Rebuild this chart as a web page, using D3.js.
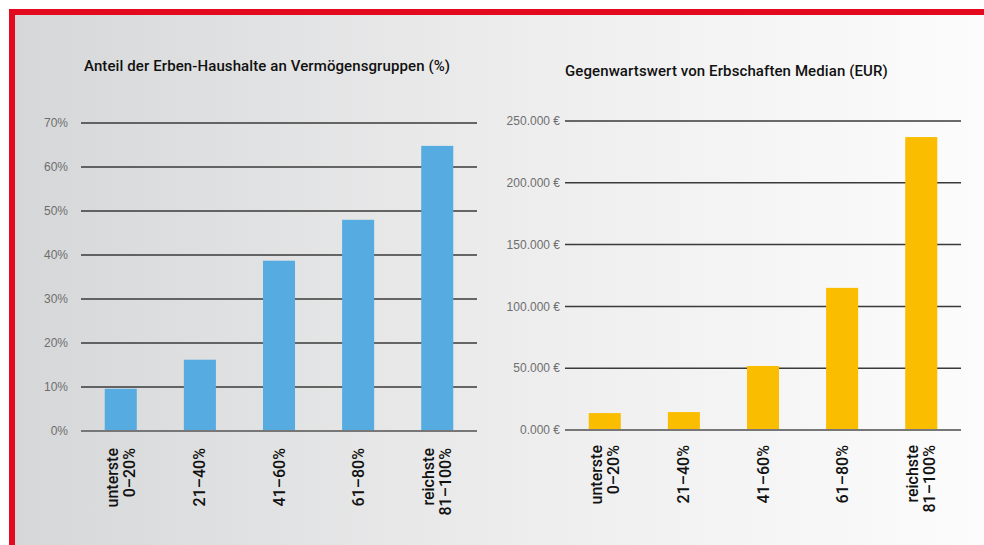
<!DOCTYPE html>
<html>
<head>
<meta charset="utf-8">
<script src="https://cdn.jsdelivr.net/npm/d3@7"></script>
<style>
  body { margin: 0; background: #fff; }
  svg { display: block; }
</style>
</head>
<body>
<svg id="chart" width="984" height="545"></svg>
<script>
// data
var categories = [["unterste", "0–20%"], ["21–40%"], ["41–60%"], ["61–80%"], ["reichste", "81–100%"]];
var shareValues = [9.6, 16.2, 38.7, 48.0, 64.8];
var shareTicks = [0, 10, 20, 30, 40, 50, 60, 70];
var shareTickLabels = ["0%", "10%", "20%", "30%", "40%", "50%", "60%", "70%"];
var medianValues = [13700, 14500, 51800, 115000, 237000];
var medianTicks = [0, 50000, 100000, 150000, 200000, 250000];
var medianTickLabels = ["0.000 €", "50.000 €", "100.000 €", "150.000 €", "200.000 €", "250.000 €"];

var svg = d3.select("#chart");

// background gradient + red frame
var defs = svg.append("defs");
var grad = defs.append("linearGradient").attr("id", "bg").attr("x1", "0").attr("x2", "1").attr("y1", "0").attr("y2", "0");
grad.append("stop").attr("offset", "0%").attr("stop-color", "#d6d7d8");
grad.append("stop").attr("offset", "55%").attr("stop-color", "#eeeeef");
grad.append("stop").attr("offset", "100%").attr("stop-color", "#fcfcfc");

svg.append("rect").attr("x", 15).attr("y", 15).attr("width", 969).attr("height", 530).attr("fill", "url(#bg)");
svg.append("rect").attr("x", 9).attr("y", 9).attr("width", 975).attr("height", 6).attr("fill", "#e30a1f");
svg.append("rect").attr("x", 9).attr("y", 9).attr("width", 6).attr("height", 536).attr("fill", "#e30a1f");

function drawPanel(opts) {
  var x = d3.scaleBand()
    .domain(d3.range(categories.length))
    .range([opts.x0, opts.x1])
    .paddingInner(0.595)
    .paddingOuter(0.3);

  var y = d3.scaleLinear()
    .domain([0, opts.max])
    .range([opts.yBottom, opts.yTop]);

  var g = svg.append("g");

  // title
  g.append("text")
    .attr("x", opts.x0 + opts.titleDx)
    .attr("y", opts.titleY)
    .style("font-family", "Roboto, 'DejaVu Sans Condensed', sans-serif")
    .style("font-weight", 500)
    .style("font-size", "15px")
    .style("letter-spacing", "0.1px")
    .style("fill", "#111")
    .text(opts.title);

  // grid lines
  g.selectAll(".grid")
    .data(opts.ticks.slice(1))
    .enter().append("line")
    .attr("x1", opts.x0).attr("x2", opts.x1)
    .attr("y1", function(d) { return y(d); })
    .attr("y2", function(d) { return y(d); })
    .style("stroke", "#3a3a3a")
    .style("stroke-width", 1.5);

  // tick labels
  g.selectAll(".tick-label")
    .data(opts.ticks)
    .enter().append("text")
    .attr("x", opts.x0 - opts.labelGap)
    .attr("y", function(d) { return y(d); })
    .attr("dy", "0.35em")
    .attr("text-anchor", "end")
    .style("font-family", "'Liberation Sans', Arial, sans-serif")
    .style("font-size", "12px")
    .style("fill", "#6e6e6e")
    .text(function(d, i) { return opts.tickLabels[i]; });

  // bars
  g.selectAll(".bar")
    .data(opts.values)
    .enter().append("rect")
    .attr("x", function(d, i) { return x(i); })
    .attr("width", x.bandwidth())
    .attr("y", function(d) { return y(d); })
    .attr("height", function(d) { return y(0) - y(d); })
    .style("fill", opts.color);

  // baseline
  g.append("line")
    .attr("x1", opts.x0).attr("x2", opts.x1)
    .attr("y1", y(0)).attr("y2", y(0))
    .style("stroke", "#777")
    .style("stroke-width", 2);

  // category labels, rotated
  var cat = g.selectAll(".cat")
    .data(categories)
    .enter().append("g")
    .attr("transform", function(d, i) {
      return "translate(" + (x(i) + x.bandwidth() / 2) + "," + (y(0) + opts.catGap) + ") rotate(-90)";
    });

  cat.append("text")
    .attr("text-anchor", "end")
    .style("font-family", "Roboto, 'DejaVu Sans Condensed', sans-serif")
    .style("font-size", "16px")
    .style("font-weight", 500)
    .style("fill", "#111")
    .selectAll("tspan")
    .data(function(d) { return d; })
    .enter().append("tspan")
    .attr("x", 0)
    .attr("y", function(d, i, nodes) {
      var n = nodes.length;
      return (i - (n - 1) / 2) * 17 + 5.5;
    })
    .text(function(d) { return d; });
}

drawPanel({
  x0: 81, x1: 477, yTop: 123, yBottom: 431,
  max: 70, values: shareValues, ticks: shareTicks, tickLabels: shareTickLabels,
  color: "#56abe1", title: "Anteil der Erben-Haushalte an Vermögensgruppen (%)",
  titleDx: 3, titleY: 71, labelGap: 13, catGap: 17
});

drawPanel({
  x0: 565, x1: 961, yTop: 121, yBottom: 430,
  max: 250000, values: medianValues, ticks: medianTicks, tickLabels: medianTickLabels,
  color: "#fbbd00", title: "Gegenwartswert von Erbschaften Median (EUR)",
  titleDx: 0, titleY: 76, labelGap: 5, catGap: 15
});
</script>
</body>
</html>
